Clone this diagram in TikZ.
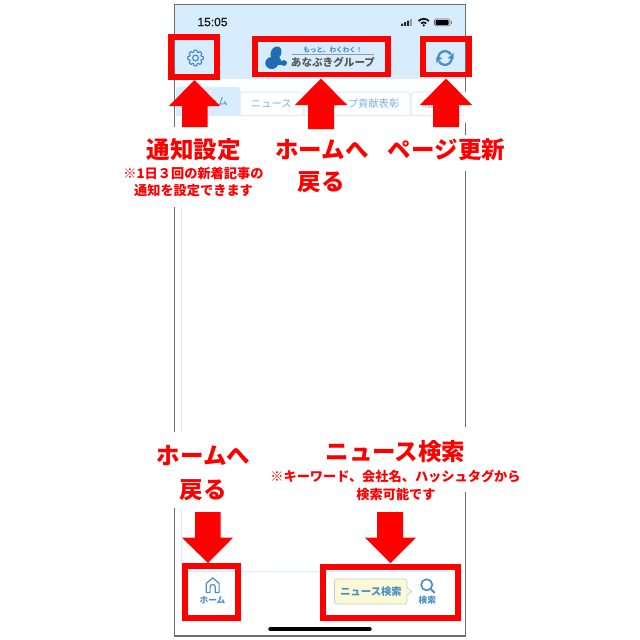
\documentclass[tikz,border=0pt]{standalone}
\usepackage{fontspec}
\usetikzlibrary{calc}
\setmainfont{Noto Sans CJK JP}
\newfontfamily\latinf[FakeBold=0.3]{Liberation Sans}
\definecolor{hdr}{HTML}{D7ECFC}
\definecolor{tabline}{HTML}{DCEBF7}
\definecolor{iconblue}{HTML}{4A90C8}
\definecolor{tabtext}{HTML}{7FB2DC}
\definecolor{redbox}{HTML}{FF0000}
\definecolor{frame}{HTML}{6E6E6E}
\definecolor{logoblue}{HTML}{1F6CB0}
\definecolor{bubble}{HTML}{FBF9D6}
\tikzset{
 x=1pt,y=-1pt,
 redframe/.style={draw=redbox,line width=5.8pt,fill=none,miter limit=10},
 bigarrow/.style={fill=redbox,draw=none},
 bigtext/.style={text=redbox,font=\fontsize{23.5}{26}\selectfont\bfseries,inner sep=0pt},
 smalltext/.style={text=redbox,font=\fontsize{13.2}{16}\selectfont\bfseries,inner sep=0pt},
 tabbox/.style={draw=tabline,line width=1pt,fill=white,rounded corners=3pt},
 tablabel/.style={text=tabtext,font=\fontsize{10.3}{12}\selectfont,inner sep=0pt},
 barlabel/.style={text=iconblue,font=\fontsize{8.7}{10}\selectfont\bfseries,inner sep=0pt},
 icon/.style={draw=iconblue,line width=1.4pt,fill=none,line cap=round,line join=round},
}
\begin{document}
\begin{tikzpicture}
\useasboundingbox[fill=white] (0,0) rectangle (640,640);
% phone
\fill[hdr] (174.5,4.5) rectangle (465.5,78);
\draw[tabline,line width=1pt] (174.5,78) -- (465.5,78);
\draw[frame,line width=1.2pt] (174.5,4.5) rectangle (465.5,636);
% status bar
\node[font=\latinf\fontsize{12}{13}\selectfont,inner sep=0pt,text=black!90] (clock) at (212.5,22) {15:05};
\fill[black!85] (401,23.5) rectangle (403.2,25.8) (404,22) rectangle (406.2,25.8) (407,20.5) rectangle (409.2,25.8);
\fill[black!40] (410.2,19) rectangle (412.4,25.8);
\begin{scope}[shift={(423.7,26)}]
 \draw[black!90,line width=1.8pt] (-5.2,-5) arc[start angle=-135,end angle=-45,radius=7.4];
 \draw[black!90,line width=1.8pt] (-2.7,-2.6) arc[start angle=-135,end angle=-45,radius=3.8];
 \fill[black!90] (0,-0.6) circle (1.3);
\end{scope}
\draw[black!60,line width=.7pt,rounded corners=1.5pt] (434.5,19) rectangle (450,25.8);
\fill[black,rounded corners=1pt] (435.5,20) rectangle (448.5,24.8);
\fill[black!50] (451,21) rectangle (452,24);
% tabs
\fill[hdr,rounded corners=3pt] (176,87) rectangle (240,118);
\draw[tabbox] (411,92) rectangle (472,122);
\draw[tabbox] (304,92) rectangle (410,122);
\draw[tabbox] (240,92) rectangle (303,122);
\fill[white] (175,116) rectangle (465,124);
\fill[hdr] (175,114.5) rectangle (465,116);
\fill[white] (466.2,88) rectangle (475,128);
\node[text=iconblue,font=\fontsize{10.5}{12}\selectfont,inner sep=0pt,anchor=east] (tabhome) at (228,101.7) {ホーム};
\node[tablabel] (tabnews) at (271.3,104) {ニュース};
\node[tablabel,anchor=east] (tabgroup) at (399.5,104) {グループ貢献表彰};
\node[tablabel,anchor=west] (tabother) at (423,104) {結};
\draw[tabline,line width=1pt] (181.5,124) -- (181.5,571);
% gaps of the screenshot behind the captions
\fill[white] (172,127) rectangle (184,207);
\fill[white] (172,432) rectangle (184,508);
\fill[white] (463,135) rectangle (468,171);
\fill[white] (463,427) rectangle (468,492);
% gear
\begin{scope}[shift={(195.5,58)}]
 \draw[icon,line width=1.2pt] (0:7.8)
 \foreach \a in {0,45,...,315} {
   -- ({\a+10}:7.8) -- ({\a+17}:6.1) -- ({\a+28}:6.1) -- ({\a+35}:7.8) -- ({\a+45}:7.8)
 };
 \draw[icon,line width=1.2pt] (0,0) circle (2.9);
\end{scope}
% refresh
\begin{scope}[shift={(445,58)}]
 \draw[icon,line width=2.3pt,line cap=butt] (-6.7,-1) arc[start angle=188,end angle=330,radius=6.8];
 \draw[icon,line width=2.3pt,line cap=butt] (6.7,1) arc[start angle=8,end angle=150,radius=6.8];
 \fill[iconblue] (8.6,-5) -- (8.6,1.2) -- (2.6,0.2) -- cycle;
 \fill[iconblue] (-8.6,5) -- (-8.6,-1.2) -- (-2.6,-0.2) -- cycle;
\end{scope}
% logo
\fill[logoblue,rotate around={-25:(276,53)}] (276,53) ellipse (5.2 and 6.8);
\fill[logoblue] (271.8,63) ellipse (6.5 and 6);
\fill[logoblue] (284,63) circle (2.9);
\draw[logoblue,line width=3.4pt] (277,57) -- (280.5,62.5);
\draw[logoblue,line width=2.6pt] (275,63.3) -- (282,63.3);
\node[text=iconblue,font=\fontsize{6.6}{8}\selectfont\bfseries,inner sep=0pt] (slogan) at (333,50) {もっと、わくわく！};
\draw[black!40,line width=.7pt] (292,54.3) -- (374,54.3);
\node[text=black!65,font=\fontsize{10.6}{12}\selectfont\bfseries,inner sep=0pt] (logotext) at (333,62.5) {あなぶきグループ};
% tab bar
\draw[tabline,line width=1pt] (181,571) -- (465,571);
\begin{scope}[shift={(212.7,585)}]
 \draw[icon,line width=1.2pt] (-6.4,7.5) -- (-6.4,-1.6) -- (0,-7.2) -- (6.4,-1.6) -- (6.4,7.5) -- (2.6,7.5) -- (2.6,2) arc[start angle=0,end angle=-180,radius=2.6] -- (-2.6,7.5) -- cycle;
\end{scope}
\node[barlabel] (homelabel) at (212.5,600) {ホーム};
\draw[draw=black!20,fill=bubble,line width=.7pt,rounded corners=2.5pt] (334.5,579) rectangle (407,604);
\fill[bubble] (406.6,587.5) -- (412,591.5) -- (406.6,595.5) -- cycle;
\draw[black!20,line width=.6pt] (407,587.5) -- (412,591.5) -- (407,595.5);
\node[text=iconblue,font=\fontsize{10.3}{12}\selectfont\bfseries,inner sep=0pt] (bubbletext) at (371,591.7) {ニュース検索};
\draw[icon,line width=1.7pt] (426.7,584.8) circle (5.6);
\draw[icon,line width=1.9pt] (431,589.2) -- (434.5,592.7);
\node[barlabel] (searchlabel) at (427.3,600) {検索};
\draw[black,line width=3.2pt,line cap=round] (270,629) -- (370,629);
% red frames
\draw[redframe] (171.2,37) rectangle (217.2,77);
\draw[redframe] (254.6,38.6) rectangle (387.8,74.5);
\draw[redframe] (422.9,38.6) rectangle (469.1,74.5);
\draw[redframe] (184.6,566) rectangle (238.1,617.8);
\draw[redframe] (322.9,567) rectangle (457.8,617.8);
% arrows
\fill[bigarrow] (194.5,80) -- (220,106) -- (207.7,106) -- (207.7,127) -- (182,127) -- (182,106) -- (169,106) -- cycle;
\fill[bigarrow] (321,78.5) -- (347,105) -- (334,105) -- (334,129) -- (308,129) -- (308,105) -- (295,105) -- cycle;
\fill[bigarrow] (446,78.5) -- (472,105) -- (459,105) -- (459,127) -- (433,127) -- (433,105) -- (420,105) -- cycle;
\fill[bigarrow] (208,563) -- (182,537.7) -- (195,537.7) -- (195,512) -- (220.7,512) -- (220.7,537.7) -- (233,537.7) -- cycle;
\fill[bigarrow] (390.5,563) -- (365,537.7) -- (377,537.7) -- (377,512) -- (403,512) -- (403,537.7) -- (416,537.7) -- cycle;
% labels
\node[bigtext] (t1) at (193.5,150) {通知設定};
\node[smalltext] (t1a) at (193.5,173) {※1日３回の新着記事の};
\node[smalltext] (t1b) at (193.5,191) {通知を設定できます};
\node[bigtext] (t2) at (322,150) {ホームへ};
\node[bigtext] (t2b) at (321,182) {戻る};
\node[bigtext] (t3) at (446.5,150) {ページ更新};
\node[bigtext] (t4) at (203.5,456) {ホームへ};
\node[bigtext] (t4b) at (203,490) {戻る};
\node[bigtext] (t5) at (395.5,452) {ニュース検索};
\node[smalltext] (t5a) at (395.5,476.5) {※キーワード、会社名、ハッシュタグから};
\node[smalltext] (t5b) at (396,494) {検索可能です};
\end{tikzpicture}
\end{document}
